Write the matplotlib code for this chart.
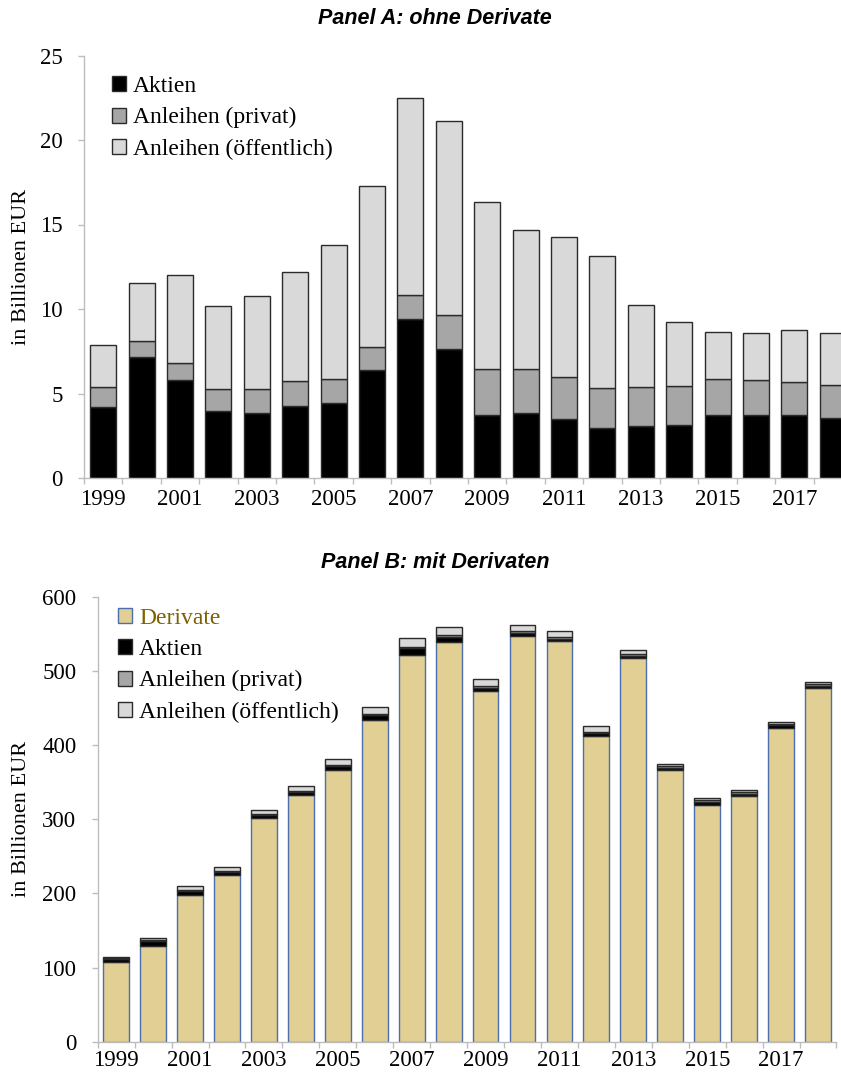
import matplotlib.pyplot as plt
from matplotlib.patches import Patch
import numpy as np

years = list(range(1999, 2019))

# Bestand in Billionen EUR
aktien = [4.22, 7.18, 5.80, 3.98, 3.83, 4.28, 4.42, 6.39, 9.43, 7.65,
          3.75, 3.85, 3.47, 2.98, 3.06, 3.16, 3.75, 3.75, 3.71, 3.55]
anl_privat = [1.18, 0.94, 1.02, 1.29, 1.44, 1.46, 1.42, 1.36, 1.42, 2.01,
              2.68, 2.58, 2.51, 2.35, 2.30, 2.28, 2.13, 2.05, 1.99, 1.95]
anl_oeff = [2.47, 3.42, 5.19, 4.89, 5.50, 6.45, 7.95, 9.53, 11.62, 11.46,
            9.90, 8.26, 8.28, 7.81, 4.90, 3.77, 2.78, 2.80, 3.08, 3.06]
derivate = [107, 129, 198, 225, 302, 333, 367, 434, 522, 539,
            473, 548, 540, 413, 518, 366, 320, 331, 423, 477]

c_akt = '#000000'
c_priv = '#A6A6A6'
c_oeff = '#D9D9D9'
c_der = '#E2CF94'
edge = '#2b2b2b'
axis_grey = '#BDBDBD'

plt.rcParams['font.family'] = ['Liberation Serif', 'DejaVu Serif']
W, H = 841, 1077
fig = plt.figure(figsize=(W / 100, H / 100), dpi=100)

x = np.arange(len(years))
akt = np.array(aktien)
priv = np.array(anl_privat)
oeff = np.array(anl_oeff)
der = np.array(derivate)


def style_axis(ax, ymax, ystep, ypad, xpad):
    ax.set_xlim(-0.5, len(years) - 0.5)
    ax.set_ylim(0, ymax)
    ax.set_yticks(np.arange(0, ymax + ystep / 2, ystep))
    ax.set_xticks(x[::2])
    ax.set_xticklabels([str(y) for y in years[::2]])
    ax.set_xticks(np.arange(-0.5, len(years), 1), minor=True)
    for s in ['top', 'right']:
        ax.spines[s].set_visible(False)
    for s in ['left', 'bottom']:
        ax.spines[s].set_color(axis_grey)
        ax.spines[s].set_linewidth(1.0)
    ax.tick_params(axis='y', direction='out', length=4.3, width=1.0,
                   color=axis_grey, labelsize=16.5, pad=ypad)
    ax.tick_params(axis='x', which='major', length=0, labelsize=16.5, pad=xpad)
    ax.tick_params(axis='x', which='minor', direction='out', length=4.3,
                   width=1.0, color=axis_grey)


leg_kw = dict(loc='upper left', bbox_transform=fig.transFigure, frameon=False,
              fontsize=17, handlelength=0.6, handleheight=0.6, handletextpad=0.3,
              labelspacing=0.43, borderpad=0, borderaxespad=0)

# Panel A
axA = fig.add_axes([84 / W, 1 - 478 / H, 768 / W, (478 - 55.5) / H])
axA.bar(x, akt, 0.68, color=c_akt, edgecolor=edge, linewidth=1.0)
axA.bar(x, priv, 0.68, bottom=akt, color=c_priv, edgecolor=edge, linewidth=1.0)
axA.bar(x, oeff, 0.68, bottom=akt + priv, color=c_oeff, edgecolor=edge, linewidth=1.0)
style_axis(axA, 25, 5, 11, 8)

hA = [Patch(facecolor=c_akt, edgecolor=edge, label='Aktien'),
      Patch(facecolor=c_priv, edgecolor=edge, label='Anleihen (privat)'),
      Patch(facecolor=c_oeff, edgecolor=edge, label='Anleihen (öffentlich)')]
axA.legend(handles=hA, bbox_to_anchor=(112 / W, 1 - 76 / H), **leg_kw)

fig.text(435 / W, 1 - 18 / H, 'Panel A: ohne Derivate', ha='center', va='center',
         fontsize=15.5, fontweight='bold', fontstyle='italic',
         family=['Liberation Sans Narrow', 'Liberation Sans'])
fig.text(22 / W, 1 - 267 / H, 'in Billionen EUR', rotation=90,
         ha='center', va='center', fontsize=16)

# Panel B
axB = fig.add_axes([97.7 / W, 1 - 1041.7 / H, 738.8 / W, (1041.7 - 597) / H])
axB.bar(x, der, 0.70, color=c_der, edgecolor='#4A6EAE', linewidth=1.0)
axB.bar(x, akt, 0.70, bottom=der, color=c_akt, edgecolor=edge, linewidth=1.0)
axB.bar(x, priv, 0.70, bottom=der + akt, color=c_priv, edgecolor=edge, linewidth=1.0)
axB.bar(x, oeff, 0.70, bottom=der + akt + priv, color=c_oeff, edgecolor=edge, linewidth=1.0)
style_axis(axB, 600, 100, 11, 6)

hB = [Patch(facecolor=c_der, edgecolor='#4A6EAE', label='Derivate')] + hA
legB = axB.legend(handles=hB, bbox_to_anchor=(118 / W, 1 - 608 / H), **leg_kw)
legB.get_texts()[0].set_color('#7F6000')

fig.text(435 / W, 1 - 563 / H, 'Panel B: mit Derivaten', ha='center', va='center',
         fontsize=15.5, fontweight='bold', fontstyle='italic',
         family=['Liberation Sans Narrow', 'Liberation Sans'])
fig.text(22 / W, 1 - 819 / H, 'in Billionen EUR', rotation=90,
         ha='center', va='center', fontsize=16)

fig.savefig('out.png', dpi=100)
